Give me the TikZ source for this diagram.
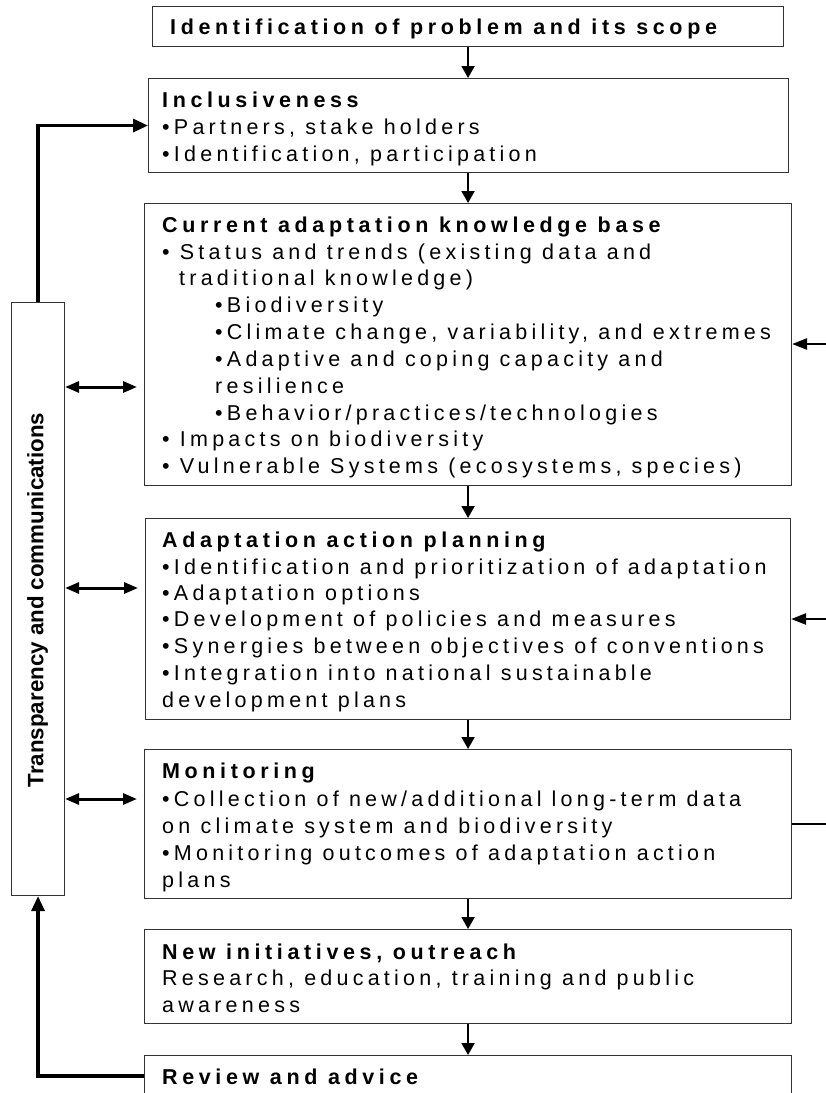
\documentclass[tikz,border=0pt]{standalone}
\usepackage{fontspec}
\setmainfont{Liberation Sans}
\newfontfamily\bodyf[LetterSpace=19.7]{Liberation Sans}
\newfontfamily\headf[LetterSpace=21.5]{Liberation Sans}
\usetikzlibrary{arrows.meta}
\tikzset{
  box/.style={draw=black!80, line width=1.1pt, rectangle, inner sep=0pt, anchor=north west},
  txt/.style={anchor=base west, inner sep=0pt, font=\bodyf\fontsize{21.5}{26}\selectfont},
  hd/.style={anchor=base west, inner sep=0pt, font=\headf\bfseries\fontsize{21.5}{26}\selectfont},
  down/.style={line width=2pt, -{Triangle[length=12pt,width=13pt]}},
  side arrow/.style={line width=2.5pt, -{Triangle[length=15pt,width=11pt]}},
  fbk/.style={line width=3.2pt, -{Triangle[length=15pt,width=13pt]}},
  dbl/.style={line width=3pt, {Triangle[length=14pt,width=11pt]}-{Triangle[length=14pt,width=11pt]}},
}
\begin{document}
\begin{tikzpicture}[x=1pt,y=-1pt]
\useasboundingbox (0,0) rectangle (826,1093);
\clip (0,0) rectangle (826,1093);
% boxes
\node[box, minimum width=631pt, minimum height=40pt] (top) at (152,6) {};
\node[box, minimum width=640pt, minimum height=94pt] (inc) at (148,78) {};
\node[box, minimum width=647pt, minimum height=282pt] (kb) at (144,203) {};
\node[box, minimum width=645pt, minimum height=201pt] (plan) at (145,518) {};
\node[box, minimum width=647pt, minimum height=149pt] (mon) at (144,749) {};
\node[box, minimum width=647pt, minimum height=94pt] (newi) at (144,929) {};
\node[box, minimum width=647pt, minimum height=60pt] (rev) at (144,1055) {};
\node[box, minimum width=53pt, minimum height=593pt] (side) at (11,302) {};
\node[rotate=90, inner sep=0pt, font=\bfseries\fontsize{22.3}{26}\selectfont] (sidet) at (37.5,600) {Transparency and communications};
% texts
\node[hd] (t0) at (170,34) {Identification of problem and its scope};
\node[hd] (i0) at (162,107) {Inclusiveness};
\node[txt] (i1) at (162,134) {•Partners, stake holders};
\node[txt] (i2) at (162,161) {•Identification, participation};
\node[hd] (k0) at (162,232) {Current adaptation knowledge base};
\node[txt] (k1) at (162,259) {• Status and trends (existing data and};
\node[txt] (k2) at (179,285) {traditional knowledge)};
\node[txt] (k3) at (215,312) {•Biodiversity};
\node[txt] (k4) at (215,339) {•Climate change, variability, and extremes};
\node[txt] (k5) at (215,366) {•Adaptive and coping capacity and};
\node[txt] (k6) at (215,393) {resilience};
\node[txt] (k7) at (215,420) {•Behavior/practices/technologies};
\node[txt] (k8) at (162,446) {• Impacts on biodiversity};
\node[txt] (k9) at (162,473) {• Vulnerable Systems (ecosystems, species)};
\node[hd] (p0) at (162,547) {Adaptation action planning};
\node[txt] (p1) at (162,574) {•Identification and prioritization of adaptation};
\node[txt] (p2) at (162,600) {•Adaptation options};
\node[txt] (p3) at (162,626) {•Development of policies and measures};
\node[txt] (p4) at (162,653) {•Synergies between objectives of conventions};
\node[txt] (p5) at (162,680) {•Integration into national sustainable};
\node[txt] (p6) at (162,707) {development plans};
\node[hd] (m0) at (162,778) {Monitoring};
\node[txt] (m1) at (162,806) {•Collection of new/additional long-term data};
\node[txt] (m2) at (162,833) {on climate system and biodiversity};
\node[txt] (m3) at (162,860) {•Monitoring outcomes of adaptation action};
\node[txt] (m4) at (162,887) {plans};
\node[hd] (n0) at (162,959) {New initiatives, outreach};
\node[txt] (n1) at (162,985) {Research, education, training and public};
\node[txt] (n2) at (162,1012) {awareness};
\node[hd] (r0) at (162,1084) {Review and advice};
% down arrows
\draw[down] (top.south -| kb.north) -- (inc.north -| kb.north);
\draw[down] (inc.south -| kb.north) -- (kb.north);
\draw[down] (kb.south) -- (plan.north -| kb.south);
\draw[down] (plan.south -| kb.south) -- (mon.north);
\draw[down] (mon.south) -- (newi.north);
\draw[down] (newi.south) -- (rev.north);
% feedback loop
\draw[fbk] (side.north) |- (inc.west);
\draw[fbk] (rev.west |- 0,1076) -| (side.south);
% double arrows
\draw[dbl, shorten >=7pt] (side.east |- 0,387) -- (kb.west |- 0,387);
\draw[dbl, shorten >=7pt] (side.east |- 0,588) -- (plan.west |- 0,588);
\draw[dbl, shorten >=7pt] (side.east |- 0,799) -- (mon.west |- 0,799);
% right side
\coordinate (rk) at (826,344);
\coordinate (rp) at (826,619);
\coordinate (rm) at (826,824);
\draw[side arrow] (rk) -- (rk -| kb.east);
\draw[side arrow] (rp) -- (rp -| plan.east);
\draw[line width=2.5pt] (rm -| mon.east) -- (rm);
\end{tikzpicture}
\end{document}
